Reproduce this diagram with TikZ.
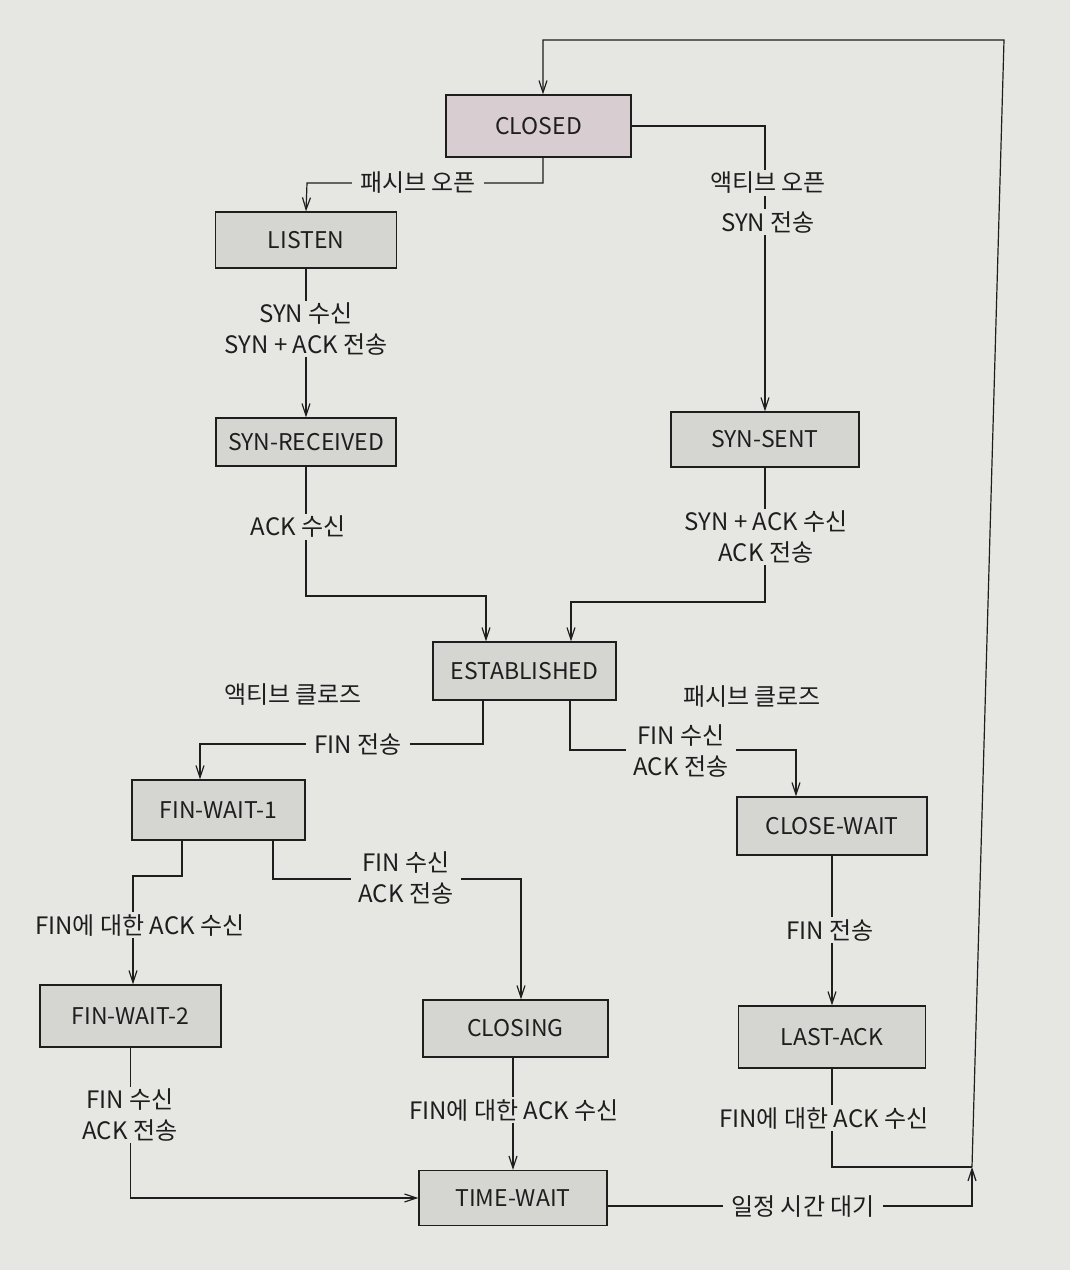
\documentclass[tikz,border=0pt]{standalone}
\usepackage{fontspec}
\setmainfont{Noto Sans CJK KR}
\usetikzlibrary{arrows.meta}

\definecolor{paper}{HTML}{E6E6E3}
\definecolor{stategray}{HTML}{D5D5D2}
\definecolor{closedfill}{HTML}{D8CDD0}
\definecolor{ink}{HTML}{1E1E1E}

\tikzset{
  state/.style={draw=ink, line width=1.2pt, fill=stategray, text=ink,
    font=\fontsize{23}{26}\selectfont, inner sep=0pt},
  lbl/.style={fill=paper, text=ink, font=\fontsize{24}{31}\selectfont,
    inner xsep=8pt, inner ysep=2pt, align=center},
  conn/.style={draw=ink, line width=1.2pt},
  arr/.style={conn, -{Straight Barb[length=12pt,width=8pt,line width=1.2pt]}}
}

\begin{document}
\begin{tikzpicture}[x=1pt,y=-1pt]
  % page
  \fill[paper] (0,0) rectangle (1070,1270);
  \useasboundingbox (0,0) rectangle (1070,1270);

  % states
  \node[state, fill=closedfill, minimum width=185pt, minimum height=62pt] (closed) at (538.5,126) {CLOSED};
  \node[state, minimum width=181pt, minimum height=56pt] (listen)   at (306,240) {LISTEN};
  \node[state, minimum width=180pt, minimum height=48pt] (synrcvd)  at (306,442) {SYN-RECEIVED};
  \node[state, minimum width=188pt, minimum height=55pt] (synsent)  at (765,439.5) {SYN-SENT};
  \node[state, minimum width=183pt, minimum height=58pt] (estab)    at (524.5,671) {ESTABLISHED};
  \node[state, minimum width=173pt, minimum height=60pt] (finwait1) at (218.5,810) {FIN-WAIT-1};
  \node[state, minimum width=190pt, minimum height=58pt] (closewait) at (832,826) {CLOSE-WAIT};
  \node[state, minimum width=181pt, minimum height=62pt] (finwait2) at (130.5,1016) {FIN-WAIT-2};
  \node[state, minimum width=185pt, minimum height=57pt] (closing)  at (515.5,1028.5) {CLOSING};
  \node[state, minimum width=187pt, minimum height=62pt] (lastack)  at (832,1037) {LAST-ACK};
  \node[state, minimum width=188pt, minimum height=55pt] (timewait) at (513,1198) {TIME-WAIT};

  % bends and junctions
  \coordinate (b1) at (307,183);
  \coordinate (b4) at (486,596);
  \coordinate (b5) at (571,602);
  \coordinate (b6) at (200,744);
  \coordinate (b7) at (796,750);
  \coordinate (b8) at (133,876);
  \coordinate (b9) at (521,879);
  \coordinate (j)  at (972,1167);
  \coordinate (tr) at (1004,40);

  % transitions
  \draw[arr] ([xshift=4.5pt]closed.south) |- (b1) -- (listen.north);
  \draw[arr] (closed.east) -| (synsent.north);
  \draw[arr] (listen.south) -- (synrcvd.north);
  \draw[arr] (synrcvd.south) |- (b4) -- (b4 |- estab.north);
  \draw[arr] (synsent.south) |- (b5) -- (b5 |- estab.north);
  \draw[arr] ([xshift=-41.5pt]estab.south) |- (b6) -- (b6 |- finwait1.north);
  \draw[arr] ([xshift=45.5pt]estab.south) |- (b7) -- (b7 |- closewait.north);
  \draw[arr] ([xshift=-36.5pt]finwait1.south) |- (b8) -- (b8 |- finwait2.north);
  \draw[arr] ([xshift=54.5pt]finwait1.south) |- (b9) -- (b9 |- closing.north);
  \draw[arr] (closewait.south) -- (lastack.north);
  \draw[arr] (finwait2.south) |- (timewait.west);
  \draw[arr] (closing.south -| timewait.north) -- (timewait.north);
  \draw[arr] ([yshift=-8pt]timewait.east) -| (j);
  \draw[conn] (lastack.south) |- (j);
  \draw[arr] (j) -- (tr) -| ([xshift=4.5pt]closed.north);

  % transition labels
  \node[lbl] (lpo)  at (418,183) {패시브 오픈};
  \node[lbl] (lao)  at (768,183) {액티브 오픈};
  \node[lbl] (lsyn) at (768,222) {SYN 전송};
  \node[lbl] (lsr)  at (306,329) {SYN 수신\\SYN + ACK 전송};
  \node[lbl] (lar)  at (298,527) {ACK 수신};
  \node[lbl] (lsar) at (766,537) {SYN + ACK 수신\\ACK 전송};
  \node[lbl] (lac)  at (293,695) {액티브 클로즈};
  \node[lbl] (lpc)  at (752,697) {패시브 클로즈};
  \node[lbl] (lfs1) at (358,744) {FIN 전송};
  \node[lbl] (lfr1) at (681,751) {FIN 수신\\ACK 전송};
  \node[lbl] (lfa1) at (140,925) {FIN에 대한 ACK 수신};
  \node[lbl] (lfr2) at (406,878) {FIN 수신\\ACK 전송};
  \node[lbl] (lfs2) at (830,930) {FIN 전송};
  \node[lbl] (lfr3) at (130,1115) {FIN 수신\\ACK 전송};
  \node[lbl] (lfa2) at (514,1110) {FIN에 대한 ACK 수신};
  \node[lbl] (lfa3) at (824,1118) {FIN에 대한 ACK 수신};
  \node[lbl] (lwait) at (803,1207) {일정 시간 대기};
\end{tikzpicture}
\end{document}
